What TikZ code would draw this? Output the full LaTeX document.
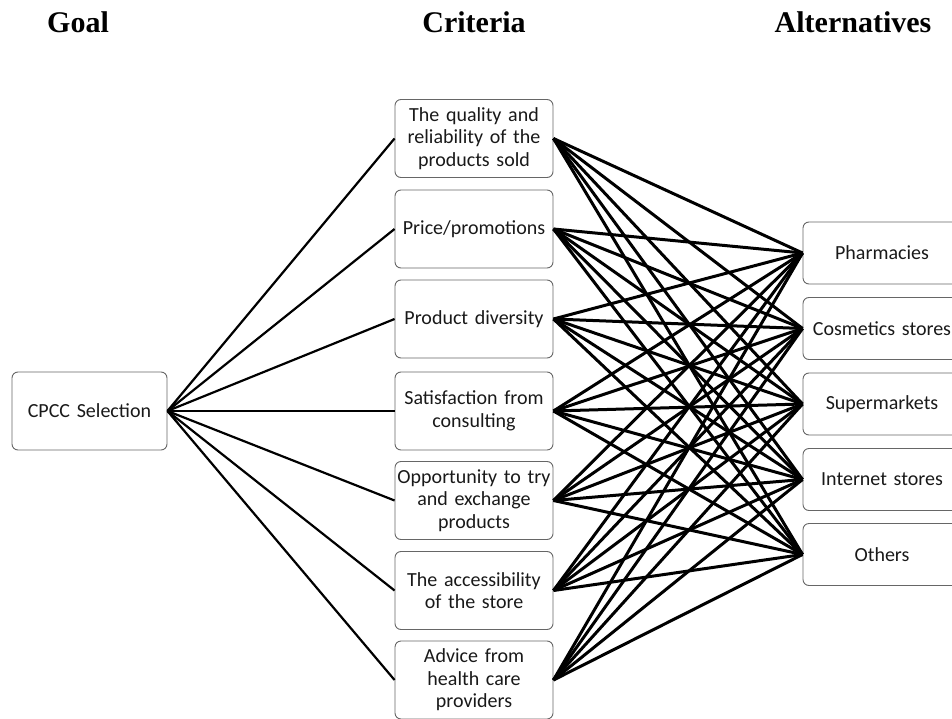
\documentclass[tikz,border=0pt]{standalone}
\usepackage{fontspec}
\setmainfont[WordSpace=0.85]{Carlito}
\newfontfamily\hdrfont{Liberation Serif}
\begin{document}
\begin{tikzpicture}[x=1pt,y=-1pt,
  box/.style={draw=black!60, line width=0.9pt, rounded corners=6pt, align=center,
    font=\fontsize{20}{22.5}\selectfont, text=black!90, inner sep=0pt, text width=156pt},
  crit/.style={box, minimum width=158pt, minimum height=78pt},
  alt/.style={box, minimum width=158pt, minimum height=62pt},
  hdr/.style={font=\hdrfont\bfseries\fontsize{30}{30}\selectfont, inner sep=0pt},
  glink/.style={line width=2.2pt, black},
  link/.style={line width=3pt, black}]
\useasboundingbox (0,0) rectangle (952,719);
\node[hdr] (hg) at (78,22.5) {Goal};
\node[hdr] (hc) at (474,22.5) {Criteria};
\node[hdr] (ha) at (853,22.5) {Alternatives};

\node[box, minimum width=155pt, minimum height=78pt, text width=150pt] (goal) at (89.5,411) {CPCC Selection};

\node[crit] (c1) at (474,138.5) {The quality and\\reliability of the\\products sold};
\node[crit] (c2) at (474,229) {Price/promotions};
\node[crit] (c3) at (474,319) {Product diversity};
\node[crit] (c4) at (474,411) {Satisfaction from\\consulting};
\node[crit] (c5) at (474,500.5) {Opportunity to try\\and exchange\\products};
\node[crit] (c6) at (474,590.5) {The accessibility\\of the store};
\node[crit] (c7) at (474,680) {Advice from\\health care\\providers};

\node[alt] (a1) at (882,253) {Pharmacies};
\node[alt] (a2) at (882,328.5) {Cosmetics stores};
\node[alt] (a3) at (882,404) {Supermarkets};
\node[alt] (a4) at (882,479.5) {Internet stores};
\node[alt] (a5) at (882,554.5) {Others};

\foreach \c in {c1,c2,c3,c4,c5,c6,c7}{
  \draw[glink] (goal.east) -- (\c.west);
  \foreach \a in {a1,a2,a3,a4,a5}{
    \draw[link] (\c.east) -- (\a.west);
  }
}
\end{tikzpicture}
\end{document}
